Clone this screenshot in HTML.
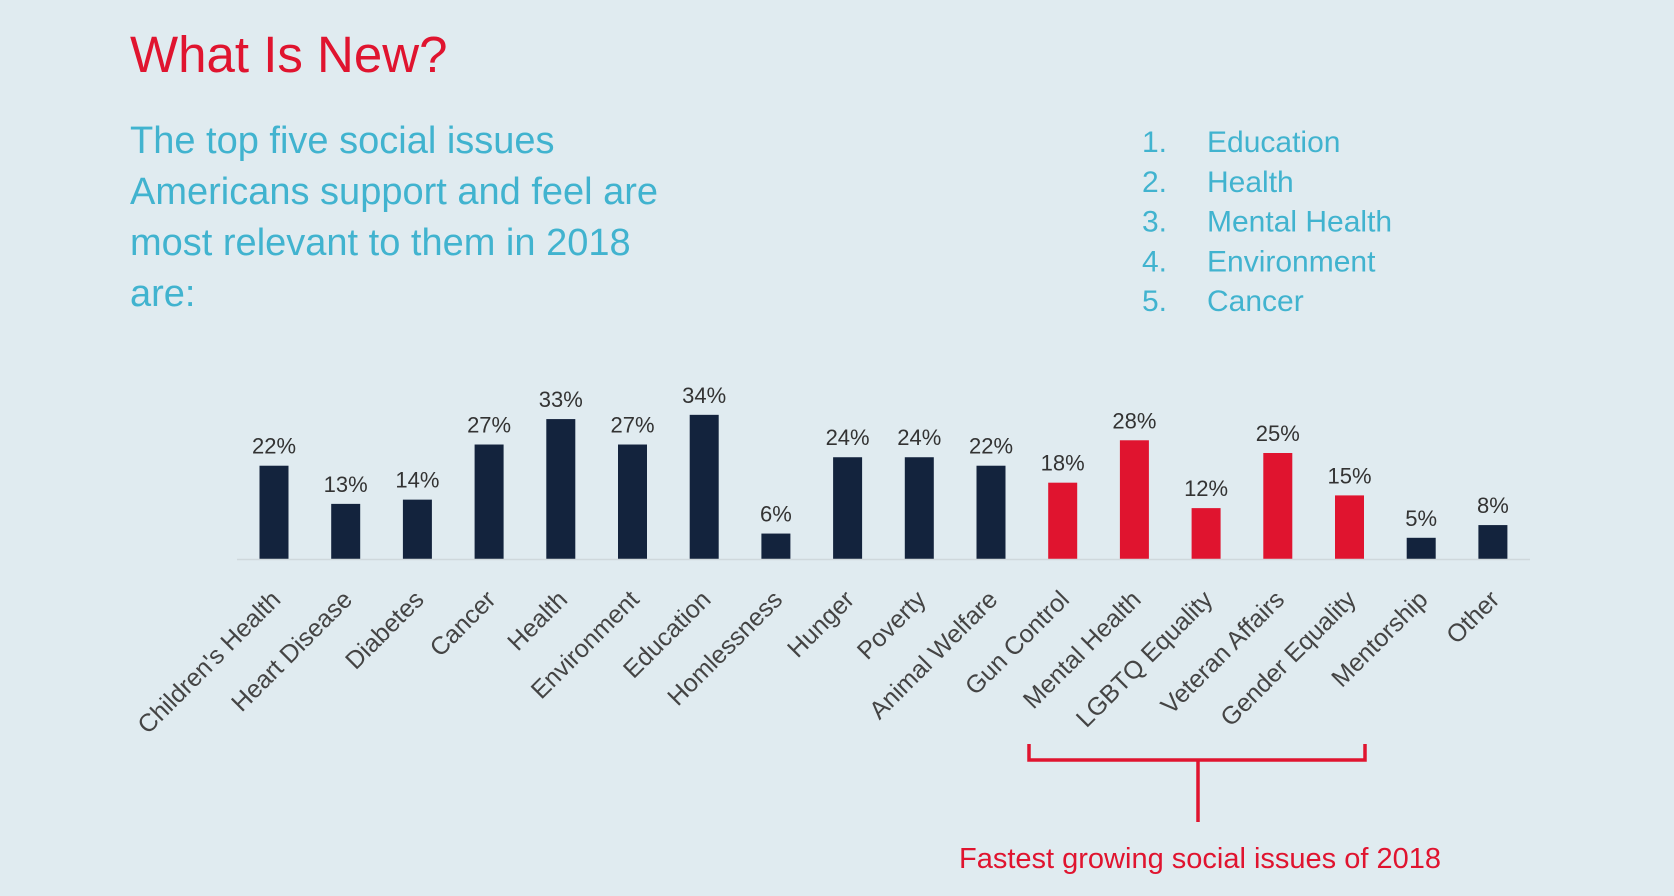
<!DOCTYPE html>
<html><head><meta charset="utf-8"><style>
html,body{margin:0;padding:0;background:#e0ebf0;}
svg{display:block;font-family:"Liberation Sans",sans-serif;}
</style></head><body>
<svg id="chart" width="1674" height="896" viewBox="0 0 1674 896">
<rect width="1674" height="896" fill="#e0ebf0"/>
<text x="130" y="72" font-size="51" fill="#e0142f">What Is New?</text>
<g font-size="38" fill="#41b3cf">
<text x="130" y="153">The top five social issues</text>
<text x="130" y="204">Americans support and feel are</text>
<text x="130" y="255">most relevant to them in 2018</text>
<text x="130" y="306">are:</text>
</g>
<g id="toplist" font-size="30" fill="#41b3cf"></g>
<g id="bars"></g>
<line x1="237" y1="559.5" x2="1530" y2="559.5" stroke="#cfd8dc" stroke-width="1.5"/>
<path d="M1029 744 V760 H1365 V744 M1198 760 V822" fill="none" stroke="#e0142f" stroke-width="3.5"/>
<text x="1200" y="868" font-size="29" fill="#e0142f" text-anchor="middle">Fastest growing social issues of 2018</text>
</svg>
<script>
const categories=["Children's Health","Heart Disease","Diabetes","Cancer","Health","Environment","Education","Homlessness","Hunger","Poverty","Animal Welfare","Gun Control","Mental Health","LGBTQ Equality","Veteran Affairs","Gender Equality","Mentorship","Other"];
const values=[22,13,14,27,33,27,34,6,24,24,22,18,28,12,25,15,5,8];
const highlighted=[0,0,0,0,0,0,0,0,0,0,0,1,1,1,1,1,0,0];
const topFive=["Education","Health","Mental Health","Environment","Cancer"];
const NS="http://www.w3.org/2000/svg";
const x0=274, step=71.7, base=559, pxPer=4.24, bw=29;
function xs(i){return x0+i*step;}
function ys(v){return base-v*pxPer;}
const g=document.getElementById('bars');
categories.forEach((c,i)=>{
  const v=values[i];
  const r=document.createElementNS(NS,'rect');
  r.setAttribute('x',xs(i)-bw/2);r.setAttribute('y',ys(v));
  r.setAttribute('width',bw);r.setAttribute('height',base-ys(v));
  r.setAttribute('fill',highlighted[i]?'#e0142f':'#13233d');
  
  
  g.appendChild(r);
  const t=document.createElementNS(NS,'text');
  t.setAttribute('x',xs(i));t.setAttribute('y',ys(v)-12);
  t.setAttribute('text-anchor','middle');t.setAttribute('font-size','22');t.setAttribute('fill','#333');
  t.textContent=v+'%';
  
  
  g.appendChild(t);
  const l=document.createElementNS(NS,'text');
  const lx=xs(i)+8, ly=base+42;
  l.setAttribute('x',lx);l.setAttribute('y',ly);
  l.setAttribute('text-anchor','end');l.setAttribute('font-size','25');l.setAttribute('fill','#444');
  l.setAttribute('transform','rotate(-45 '+lx+' '+ly+')');
  l.textContent=c;
  
  
  g.appendChild(l);
});
const tl=document.getElementById('toplist');
topFive.forEach((s,i)=>{
  const y=152+i*39.8;
  const n=document.createElementNS(NS,'text');
  n.setAttribute('x',1142);n.setAttribute('y',y);n.textContent=(i+1)+'.';
  
  
  tl.appendChild(n);
  const t=document.createElementNS(NS,'text');
  t.setAttribute('x',1207);t.setAttribute('y',y);t.textContent=s;
  
  
  tl.appendChild(t);
});
</script>
</body></html>
